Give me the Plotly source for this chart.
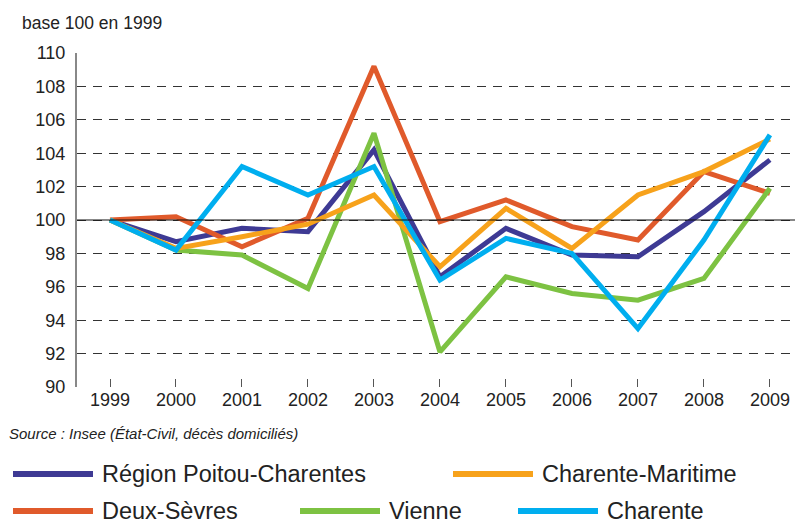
import plotly.graph_objects as go

years = [1999, 2000, 2001, 2002, 2003, 2004, 2005, 2006, 2007, 2008, 2009]
region = [100, 98.7, 99.5, 99.3, 104.2, 96.6, 99.5, 97.9, 97.8, 100.5, 103.6]
deux_sevres = [100, 100.2, 98.4, 100.1, 109.2, 99.9, 101.2, 99.6, 98.8, 102.9, 101.6]
vienne = [100, 98.2, 97.9, 95.9, 105.2, 92.1, 96.6, 95.6, 95.2, 96.5, 101.9]
charente_maritime = [100, 98.3, 99.0, 99.75, 101.5, 97.2, 100.7, 98.3, 101.5, 102.9, 104.85]
charente = [100, 98.2, 103.2, 101.5, 103.2, 96.4, 98.9, 98.0, 93.5, 98.8, 105.1]

series_names = ["Région Poitou-Charentes", "Deux-Sèvres", "Vienne", "Charente-Maritime", "Charente"]
series_values = [region, deux_sevres, vienne, charente_maritime, charente]
series_colors = ["#3E3A94", "#E05A2B", "#7DC242", "#F7A21B", "#00AEEF"]

y_ticks = list(range(90, 111, 2))

W, H = 795, 524
L, R, T, B = 77, 0, 53, 137
PW, PH = W - L - R, H - T - B

def px(x):
    return (x - L) / PW

def py(y):
    return (H - B - y) / PH

fig = go.Figure()
for name, vals, col in zip(series_names, series_values, series_colors):
    fig.add_trace(go.Scatter(x=years, y=vals, name=name, mode="lines",
                             line=dict(color=col, width=5), showlegend=False))

fig.add_hline(y=100, line=dict(color="#111", width=1.2))

font_main = "Liberation Sans, Arial, sans-serif"

fig.update_layout(
    width=W, height=H,
    margin=dict(l=L, r=R, t=T, b=B),
    plot_bgcolor="white", paper_bgcolor="white",
    font=dict(family=font_main, color="#222", size=18),
    xaxis=dict(range=[1998.5, 2009.38], tickmode="array", tickvals=years,
               ticktext=[str(y) for y in years], showgrid=False, zeroline=False,
               showline=False, ticks="inside", ticklen=8, tickcolor="#555",
               tickwidth=1.2, tickfont=dict(size=18, color="#222")),
    yaxis=dict(range=[90, 110], tickmode="array", tickvals=y_ticks,
               showgrid=True, gridcolor="#333", griddash="9px,7px", gridwidth=1.4,
               zeroline=False, showline=True, linecolor="#888", linewidth=2,
               ticks="", ticklabelstandoff=6, tickfont=dict(size=18, color="#222")),
)

# Titles / notes
fig.add_annotation(text="base 100 en 1999", xref="paper", yref="paper",
                   x=px(20), y=py(23), xanchor="left", yanchor="middle",
                   showarrow=False, font=dict(size=17.5, color="#222"))
fig.add_annotation(text="<i>Source : Insee (État-Civil, décès domiciliés)</i>",
                   xref="paper", yref="paper", x=px(7), y=py(433),
                   xanchor="left", yanchor="middle", showarrow=False,
                   font=dict(size=15, color="#222"))

# Legend (manual layout to match original placement)
legend_order = ["Région Poitou-Charentes", "Charente-Maritime", "Deux-Sèvres", "Vienne", "Charente"]
legend_pos = [(13, 474), (453, 474), (13, 511), (300, 511), (518, 511)]
for name, (lx, ly) in zip(legend_order, legend_pos):
    col = series_colors[series_names.index(name)]
    fig.add_shape(type="line", xref="paper", yref="paper",
                  x0=px(lx), x1=px(lx + 80), y0=py(ly), y1=py(ly),
                  line=dict(color=col, width=6))
    fig.add_annotation(text=name, xref="paper", yref="paper",
                       x=px(lx + 87), y=py(ly), xanchor="left", yanchor="middle",
                       showarrow=False, font=dict(size=23.5, color="#222"))

fig.write_html("out.html", config={"displayModeBar": False},
               post_script="document.body.style.margin='0';document.body.style.padding='0';document.body.style.overflow='hidden';")
